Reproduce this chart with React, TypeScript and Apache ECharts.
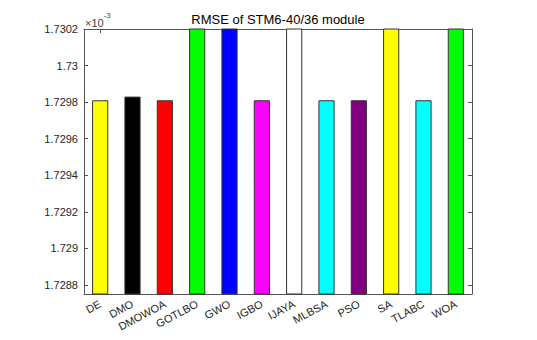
import React, { useEffect, useRef } from "react";
import * as echarts from "echarts";

const categories = ["DE", "DMO", "DMOWOA", "GOTLBO", "GWO", "IGBO", "IJAYA", "MLBSA", "PSO", "SA", "TLABC", "WOA"];
// RMSE values in units of 1e-3 (bars above 1.7302 are clipped at the top of the axes)
const rmseValues = [1.72981, 1.72983, 1.72981, 1.7310, 1.7310, 1.72981, 1.7310, 1.72981, 1.72981, 1.7310, 1.72981, 1.7310];
const barColors = ["#ffff00", "#000000", "#ff0000", "#00ff00", "#0000ff", "#ff00ff", "#ffffff", "#00ffff", "#800080", "#ffff00", "#00ffff", "#00ff00"];
const tickValues = [1.7288, 1.729, 1.7292, 1.7294, 1.7296, 1.7298, 1.73, 1.7302];
const tickLabels = ["1.7288", "1.729", "1.7292", "1.7294", "1.7296", "1.7298", "1.73", "1.7302"];
const yMin = 1.72875;
const yMax = 1.7302;

const axisColor = "#555555";
const textColor = "#262626";
const font = "'Liberation Sans', Arial, sans-serif";

function labelFor(v: number): string {
  let best = 0;
  for (let i = 1; i < tickValues.length; i++) {
    if (Math.abs(tickValues[i] - v) < Math.abs(tickValues[best] - v)) best = i;
  }
  return tickLabels[best];
}

export default function App() {
  const ref = useRef<HTMLDivElement>(null);
  useEffect(() => {
    if (!ref.current) return;
    const chart = echarts.init(ref.current, null, { renderer: "svg" });
    const gridLeft = 84;
    const gridRight = 65;
    const plotCenter = gridLeft + (537 - gridLeft - gridRight) / 2;
    chart.setOption({
      animation: false,
      backgroundColor: "#ffffff",
      grid: { left: gridLeft, right: gridRight, top: 29, bottom: 46, containLabel: false },
      graphic: [
        {
          type: "text",
          x: plotCenter,
          y: 13,
          style: {
            text: "RMSE of STM6-40/36 module",
            fill: "#000000",
            font: `13px ${font}`,
            textAlign: "center",
          },
        },
        {
          type: "text",
          x: 85,
          y: 11,
          style: {
            text: "{a|×10}{b|-3}",
            rich: {
              a: { fontSize: 11, fontFamily: font, fill: "#444444", verticalAlign: "bottom", padding: [6, 0, 0, 0] },
              b: { fontSize: 8, fontFamily: font, fill: "#444444", verticalAlign: "top" },
            },
          },
        },
      ],
      xAxis: [
        {
          type: "category",
          data: categories,
          position: "bottom",
          boundaryGap: true,
          axisLine: { show: true, onZero: false, lineStyle: { color: axisColor, width: 1 } },
          axisTick: { show: true, inside: true, alignWithLabel: true, length: 4, lineStyle: { color: axisColor } },
          axisLabel: {
            rotate: 28,
            interval: 0,
            margin: 9,
            fontSize: 11,
            fontFamily: font,
            color: textColor,
          },
          splitLine: { show: false },
        },
        {
          type: "category",
          data: categories,
          position: "top",
          boundaryGap: true,
          axisLine: { show: true, onZero: false, lineStyle: { color: axisColor, width: 1 } },
          axisTick: { show: true, inside: true, alignWithLabel: true, length: 4, lineStyle: { color: axisColor } },
          axisLabel: { show: false },
          splitLine: { show: false },
        },
      ],
      yAxis: [
        {
          type: "value",
          min: yMin,
          max: yMax,
          position: "left",
          axisLine: { show: true, onZero: false, lineStyle: { color: axisColor, width: 1 } },
          axisTick: { show: true, inside: true, length: 4, customValues: tickValues, lineStyle: { color: axisColor } },
          axisLabel: {
            customValues: tickValues,
            formatter: (v: number) => labelFor(v),
            fontSize: 11,
            fontFamily: font,
            color: textColor,
            margin: 6,
          },
          splitLine: { show: false },
        },
        {
          type: "value",
          min: yMin,
          max: yMax,
          position: "right",
          axisLine: { show: true, onZero: false, lineStyle: { color: axisColor, width: 1 } },
          axisTick: { show: true, inside: true, length: 4, customValues: tickValues, lineStyle: { color: axisColor } },
          axisLabel: { show: false, customValues: tickValues },
          splitLine: { show: false },
        },
      ],
      series: [
        {
          type: "bar",
          xAxisIndex: 0,
          yAxisIndex: 0,
          clip: true,
          barWidth: "50%",
          data: rmseValues.map((v, i) => ({
            value: v,
            itemStyle: { color: barColors[i], borderColor: "#333333", borderWidth: 1 },
          })),
        },
      ],
    });
    return () => chart.dispose();
  }, []);
  return (
    <div
      ref={ref}
      style={{ position: "fixed", left: 0, top: 0, width: 537, height: 340, background: "#fff" }}
    />
  );
}
